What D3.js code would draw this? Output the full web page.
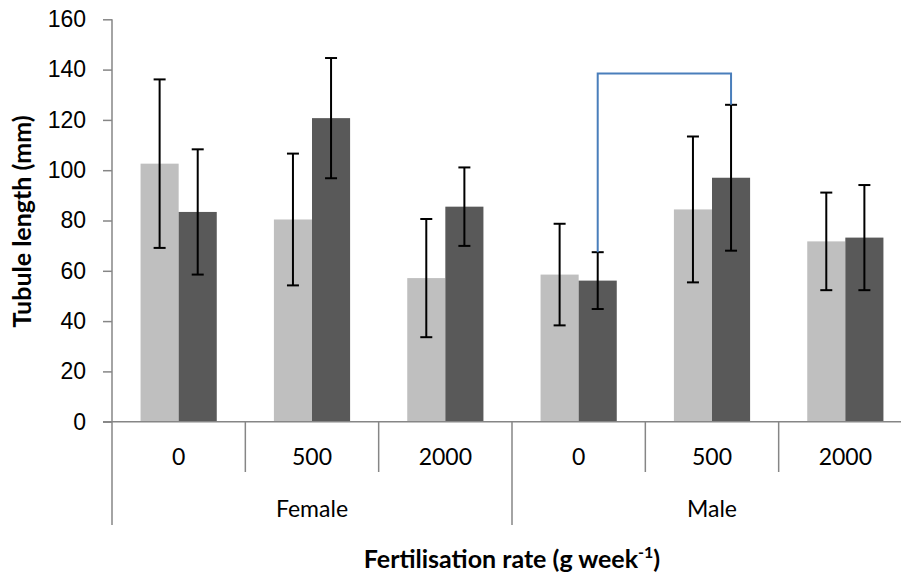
<!DOCTYPE html>
<html>
<head>
<meta charset=utf-8>
<style>
body {margin: 0; background: #fff;}
svg {display: block; font-family: Lato, 'Open Sans', sans-serif;}
.tick text {font-size: 23px; fill: #000;}
</style>
</head>
<body>
<svg id=chart width=901 height=575></svg>

<script src='https://cdn.jsdelivr.net/npm/d3@7'></script>
<script>
//data
var sexes = ['Female', 'Male'];
var rates = ['0', '500', '2000'];
var lightMeans = [102.6, 80.4, 57.1, 58.5, 84.4, 71.7];
var lightErr   = [33.5, 26.2, 23.5, 20.2, 29.0, 19.4];
var darkMeans  = [83.4, 120.7, 85.5, 56.1, 97.0, 73.2];
var darkErr    = [24.9, 23.9, 15.6, 11.3, 29.0, 20.9];
var yTicks = [0, 20, 40, 60, 80, 100, 120, 140, 160];
//significance bracket between Male 0 and Male 500 (dark bars)
var bracket = {from: 3, to: 4, level: 138.4};

var svg = d3.select('#chart');
var plotLeft = 112, plotRight = 912, plotTop = 19.3, plotBottom = 421.7;

//one key per category, grouped by sex
var cats = [];
sexes.forEach(function(s){ rates.forEach(function(r){ cats.push(s + '|' + r); }); });

var x0 = d3.scaleBand().domain(cats).range([plotLeft, plotRight]);
var bw = x0.bandwidth();
var groupW = bw * 2 / 3.5; //gap width 150%
var x1 = d3.scaleBand().domain(['light', 'dark'])
    .range([(bw - groupW) / 2, (bw + groupW) / 2]);
var y = d3.scaleLinear().domain([0, 160]).range([plotBottom, plotTop]);

var series = [
  {key: 'light', color: '#bfbfbf', means: lightMeans, err: lightErr},
  {key: 'dark', color: '#595959', means: darkMeans, err: darkErr}
];

//bars
series.forEach(function(s){
  svg.append('g').selectAll('rect')
    .data(cats)
    .enter().append('rect')
      .attr('x', function(d) { return x0(d) + x1(s.key); })
      .attr('y', function(d, i) { return y(s.means[i]); })
      .attr('width', x1.bandwidth())
      .attr('height', function(d, i) { return y(0) - y(s.means[i]); })
      .attr('fill', s.color);
});

//y axis
var yAxis = svg.append('g')
    .attr('transform', 'translate(' + plotLeft + ',0)')
    .call(d3.axisLeft(y).tickValues(yTicks).tickSize(9).tickPadding(17));
yAxis.selectAll('line, path').attr('stroke', '#868686').attr('stroke-width', 1.5);
yAxis.select('.domain').attr('d', 'M0,' + y(0) + 'V' + y(160));

//x axis, two levels
var xa = svg.append('g').attr('stroke', '#868686').attr('stroke-width', 1.5);
xa.append('line').attr('x1', plotLeft - 9).attr('x2', 901).attr('y1', y(0)).attr('y2', y(0));
cats.forEach(function(d, i){
  var xb = x0(d);
  var isGroupEdge = i % rates.length === 0;
  xa.append('line').attr('x1', xb).attr('x2', xb)
    .attr('y1', y(0)).attr('y2', isGroupEdge ? 525 : 472);
});
xa.append('line').attr('x1', plotRight).attr('x2', plotRight).attr('y1', y(0)).attr('y2', 525);

svg.append('g').selectAll('text')
  .data(cats)
  .enter().append('text')
    .attr('x', function(d) { return x0(d) + bw / 2; })
    .attr('y', 465)
    .attr('text-anchor', 'middle')
    .style('font-size', '23px')
    .text(function(d) { return d.split('|')[1]; });

svg.append('g').selectAll('text')
  .data(sexes)
  .enter().append('text')
    .attr('x', function(d) { return x0(d + '|' + rates[1]) + bw / 2; })
    .attr('y', 517)
    .attr('text-anchor', 'middle')
    .style('font-size', '23px')
    .text(function(d) { return d; });

//error bars
series.forEach(function(s){
  var g = svg.append('g').attr('stroke', '#000').attr('stroke-width', 2);
  cats.forEach(function(d, i){
    var cx = x0(d) + x1(s.key) + x1.bandwidth() / 2;
    var hi = y(s.means[i] + s.err[i]), lo = y(s.means[i] - s.err[i]);
    g.append('line').attr('x1', cx).attr('x2', cx).attr('y1', hi).attr('y2', lo);
    g.append('line').attr('x1', cx - 6).attr('x2', cx + 6).attr('y1', hi).attr('y2', hi);
    g.append('line').attr('x1', cx - 6).attr('x2', cx + 6).attr('y1', lo).attr('y2', lo);
  });
});

//bracket
var bxa = x0(cats[bracket.from]) + x1('dark') + x1.bandwidth() / 2;
var bxb = x0(cats[bracket.to]) + x1('dark') + x1.bandwidth() / 2;
svg.append('path')
    .attr('d', 'M' + bxa + ',' + y(darkMeans[bracket.from] + darkErr[bracket.from]) +
               'V' + y(bracket.level) + 'H' + bxb +
               'V' + y(darkMeans[bracket.to] + darkErr[bracket.to]))
    .attr('fill', 'none')
    .attr('stroke', '#4a7ebb')
    .attr('stroke-width', 2);

//axis titles
svg.append('text')
    .attr('transform', 'translate(31,221.5) rotate(-90)')
    .attr('text-anchor', 'middle')
    .style('font-size', '25px')
    .style('font-weight', 'bold')
    .text('Tubule length (mm)');

var xt = svg.append('text')
    .attr('x', (plotLeft + plotRight) / 2)
    .attr('y', 568)
    .attr('text-anchor', 'middle')
    .style('font-size', '25px')
    .style('font-weight', 'bold')
    .text('Fertilisation rate (g week');
xt.append('tspan').attr('dy', -10).style('font-size', '16px').text('-1');
xt.append('tspan').attr('dy', 10).text(')');
</script>
</body>
</html>
